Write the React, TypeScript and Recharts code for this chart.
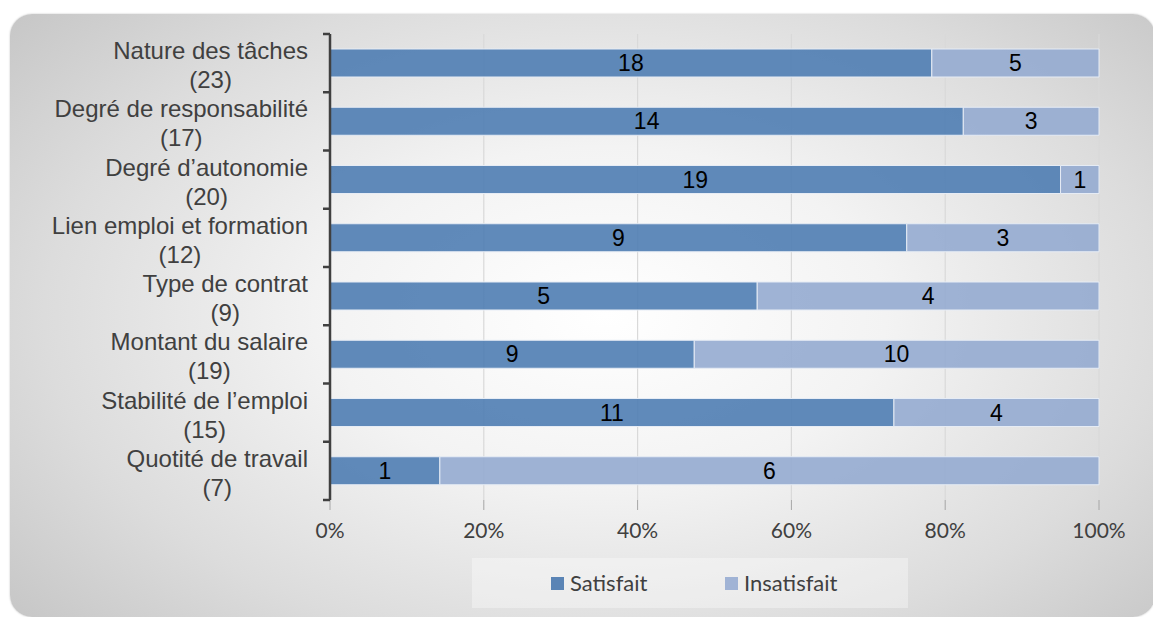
import { BarChart, Bar, XAxis, YAxis, CartesianGrid, LabelList } from "recharts";

const categories = [
  "Nature des tâches",
  "Degré de responsabilité",
  "Degré d’autonomie",
  "Lien emploi et formation",
  "Type de contrat",
  "Montant du salaire",
  "Stabilité de l’emploi",
  "Quotité de travail",
];
const satisfait = [18, 14, 19, 9, 5, 9, 11, 1];
const insatisfait = [5, 3, 1, 3, 4, 10, 4, 6];
const xTicks = [0, 0.2, 0.4, 0.6, 0.8, 1];

const data = categories.map((name, i) => ({
  name,
  total: satisfait[i] + insatisfait[i],
  satisfait: satisfait[i],
  insatisfait: insatisfait[i],
}));

const W = 1145;
const H = 603;
const M = { top: 20, right: 56, bottom: 87, left: 0 };
const X_AXIS_H = 30;
const plotH = H - M.top - M.bottom - X_AXIS_H;
const step = plotH / categories.length;

const LABEL_FONT = "24px 'Liberation Sans'";
let ctx: CanvasRenderingContext2D | null = null;
function textWidth(s: string) {
  if (!ctx) ctx = document.createElement("canvas").getContext("2d");
  if (!ctx) return s.length * 11;
  ctx.font = LABEL_FONT;
  return ctx.measureText(s).width;
}

function CategoryTick(props: any) {
  const { x, y, payload, index } = props;
  const row = data.find((d) => d.name === payload.value);
  const axisX = x + 23;
  const right = axisX - 22;
  const w = textWidth(payload.value);
  const last = index === categories.length - 1;
  return (
    <g>
      <text
        x={right}
        y={y - 4}
        textAnchor="end"
        fill="#404040"
        style={{ font: LABEL_FONT }}
      >
        {payload.value}
      </text>
      <text
        x={right - w / 2}
        y={y + 25}
        textAnchor="middle"
        fill="#404040"
        style={{ font: LABEL_FONT }}
      >
        ({row ? row.total : ""})
      </text>
      <line x1={axisX - 7} x2={axisX} y1={y - step / 2} y2={y - step / 2} stroke="#404040" strokeWidth={2.5} />
      {last && (
        <line x1={axisX - 7} x2={axisX} y1={y + step / 2} y2={y + step / 2} stroke="#404040" strokeWidth={2.5} />
      )}
    </g>
  );
}

export default function App() {
  return (
    <div style={{ position: "absolute", left: 0, top: 0, width: 1153, height: 617, overflow: "hidden", background: "#fff" }}>
      <div
        style={{
          position: "absolute",
          left: 10,
          top: 14,
          width: W,
          height: H,
          borderRadius: 22,
          overflow: "hidden",
          background:
            "radial-gradient(ellipse 70% 80% at 52% 50%, #ffffff 0%, #f3f3f3 35%, #dcdcdc 70%, #c4c4c4 100%)",
          boxShadow: "0 0 2px rgba(0,0,0,0.25)",
        }}
      >
        <BarChart
          width={W}
          height={H}
          data={data}
          layout="vertical"
          stackOffset="expand"
          margin={M}
          barSize={28}
        >
          <CartesianGrid horizontal={false} stroke="#d9d9d9" strokeWidth={1.2} />
          <XAxis
            type="number"
            domain={[0, 1]}
            ticks={xTicks}
            tickFormatter={(v: number) => `${Math.round(v * 100)}%`}
            axisLine={false}
            tickLine={{ stroke: "#a6a6a6" }}
            tickSize={10}
            tickMargin={13}
            height={X_AXIS_H}
            tick={{ fill: "#404040", fontSize: 21, fontFamily: "Lato" }}
          />
          <YAxis
            type="category"
            dataKey="name"
            width={320}
            axisLine={{ stroke: "#404040", strokeWidth: 2.5 }}
            tickLine={false}
            tickSize={0}
            tickMargin={23}
            interval={0}
            tick={<CategoryTick />}
          />
          <Bar
            dataKey="satisfait"
            stackId="a"
            fill="#4f7db3"
            fillOpacity={0.9}
            stroke="#e6ecf5"
            strokeWidth={1}
            isAnimationActive={false}
          >
            <LabelList
              dataKey="satisfait"
              position="center"
              fill="#000"
              style={{ font: "23px 'Liberation Sans'" }}
            />
          </Bar>
          <Bar
            dataKey="insatisfait"
            stackId="a"
            fill="#95abd0"
            fillOpacity={0.9}
            stroke="#e6ecf5"
            strokeWidth={1}
            isAnimationActive={false}
          >
            <LabelList
              dataKey="insatisfait"
              position="center"
              fill="#000"
              style={{ font: "23px 'Liberation Sans'" }}
            />
          </Bar>
        </BarChart>
        <div
          style={{
            position: "absolute",
            left: 462,
            top: 544,
            width: 436,
            height: 50,
            background: "rgba(255,255,255,0.35)",
            fontFamily: "Lato",
            fontSize: 22,
            color: "#404040",
          }}
        >
          <span style={{ position: "absolute", left: 79, top: 19, width: 13, height: 13, background: "#5a84b5" }} />
          <span style={{ position: "absolute", left: 98, top: 12, lineHeight: "26px" }}>Satisfait</span>
          <span style={{ position: "absolute", left: 253, top: 19, width: 13, height: 13, background: "#a0b3d5" }} />
          <span style={{ position: "absolute", left: 272, top: 12, lineHeight: "26px" }}>Insatisfait</span>
        </div>
      </div>
    </div>
  );
}
